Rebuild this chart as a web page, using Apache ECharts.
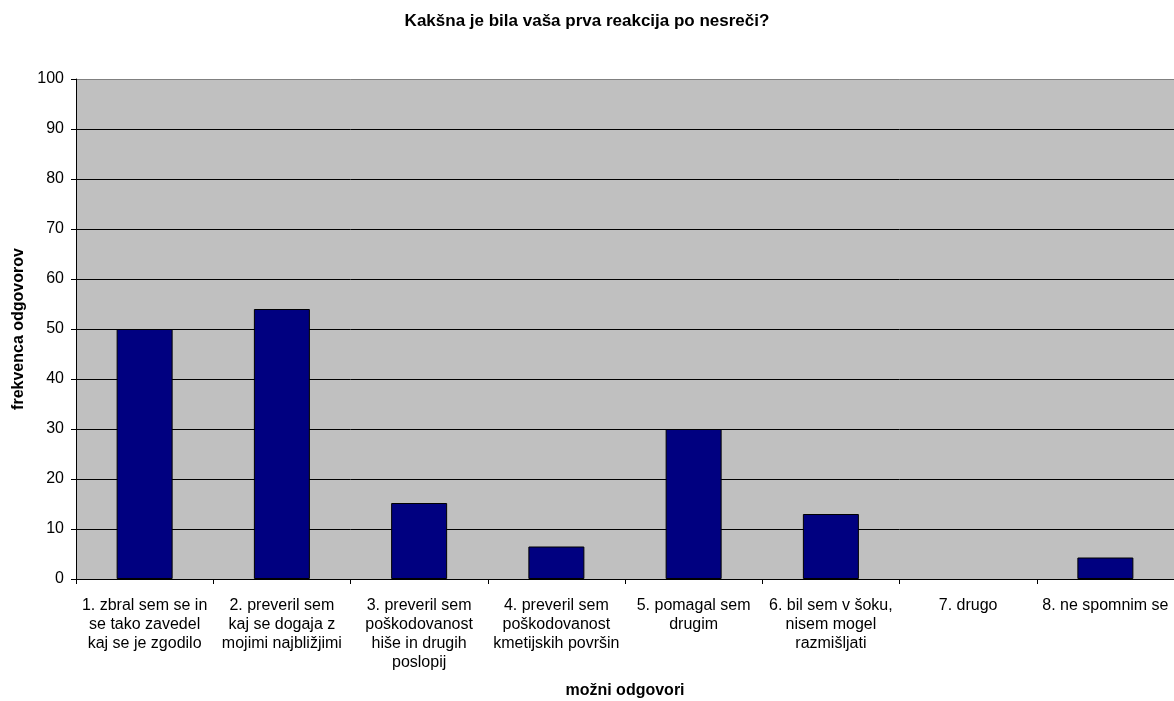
<!DOCTYPE html>
<html>
<head>
<meta charset="utf-8">
<script src="https://cdn.jsdelivr.net/npm/echarts@6/dist/echarts.min.js"></script>
<style>html,body{margin:0;padding:0;background:#fff}#c{width:1174px;height:701px}</style>
</head>
<body>
<div id="c"></div>
<script>
const categories = [
  "1. zbral sem se in\nse tako zavedel\nkaj se je zgodilo",
  "2. preveril sem\nkaj se dogaja z\nmojimi najbližjimi",
  "3. preveril sem\npoškodovanost\nhiše in drugih\nposlopij",
  "4. preveril sem\npoškodovanost\nkmetijskih površin",
  "5. pomagal sem\ndrugim",
  "6. bil sem v šoku,\nnisem mogel\nrazmišljati",
  "7. drugo",
  "8. ne spomnim se"
];
const values = [50, 54, 15.2, 6.5, 30, 13, 0, 4.3];
const yTicks = [0, 10, 20, 30, 40, 50, 60, 70, 80, 90, 100];

const font = 'Arial, "Liberation Sans", sans-serif';
const chart = echarts.init(document.getElementById('c'));
chart.setOption({
  animation: false,
  title: {
    text: 'Kakšna je bila vaša prva reakcija po nesreči?',
    left: 'center', top: 8,
    textStyle: {fontFamily: font, fontSize: 17, fontWeight: 'bold', color: '#000'}
  },
  grid: {left: 76, right: 0, top: 79, bottom: 122, show: true, backgroundColor: '#c0c0c0', borderWidth: 0,
         containLabel: false, outerBoundsMode: 'none'},
  xAxis: {
    type: 'category',
    data: categories,
    name: 'možni odgovori',
    nameLocation: 'middle',
    nameGap: 104,
    nameTextStyle: {fontFamily: font, fontSize: 16, fontWeight: 'bold', color: '#000'},
    axisLine: {lineStyle: {color: '#000', width: 1}},
    axisTick: {show: true, length: 5, lineStyle: {color: '#000'}},
    axisLabel: {interval: 0, margin: 17, fontFamily: font, fontSize: 16, lineHeight: 19, color: '#000'}
  },
  yAxis: {
    type: 'value',
    min: yTicks[0], max: yTicks[yTicks.length - 1], interval: 10,
    name: 'frekvenca odgovorov',
    nameLocation: 'middle',
    nameGap: 38,
    nameRotate: 90,
    nameTextStyle: {fontFamily: font, fontSize: 16, fontWeight: 'bold', color: '#000'},
    axisLine: {show: true, lineStyle: {color: '#000', width: 1}},
    axisTick: {show: true, length: 5, lineStyle: {color: '#000'}},
    axisLabel: {margin: 12, fontFamily: font, fontSize: 16, color: '#000'},
    splitLine: {show: true, lineStyle: {color: ['#000','#000','#000','#000','#000','#000','#000','#000','#000','#000','#808080'], width: 1}}
  },
  series: [{
    type: 'bar',
    data: values.map(v => ({value: v, itemStyle: {borderWidth: v === 0 ? 0 : 1}})),
    barWidth: 56,
    itemStyle: {color: '#000080', borderColor: '#000', borderWidth: 1}
  }]
});
</script>
</body>
</html>
